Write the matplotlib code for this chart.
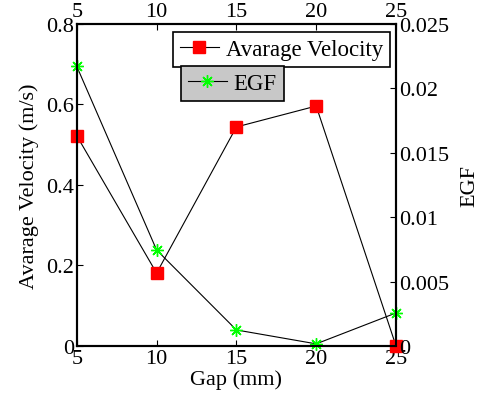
import matplotlib
matplotlib.use('Agg')
import matplotlib.pyplot as plt

plt.rcParams['font.family'] = ['Liberation Serif', 'DejaVu Serif']
plt.rcParams['font.size'] = 16

gap = [5, 10, 15, 20, 25]
velocity = [0.522, 0.181, 0.544, 0.596, 0.0]
egf = [0.0217, 0.00745, 0.00124, 0.00016, 0.00256]

fig = plt.figure(figsize=(4.8, 4.02), dpi=100)
ax = fig.add_axes([0.160, 0.137, 0.665, 0.801])
ax2 = ax.twinx()

l1, = ax.plot(gap, velocity, color='black', lw=0.8, marker='s', ms=8,
              mfc='red', mec='red', label='Avarage Velocity', clip_on=False, zorder=3)
l2, = ax2.plot(gap, egf, color='black', lw=0.8, marker=(8, 2, 0), ms=9,
               mec=(0, 1, 0), mfc=(0, 1, 0), mew=1, label='EGF', clip_on=False)

ax.set_xlim(5, 25)
ax.set_ylim(0, 0.8)
ax2.set_ylim(0, 0.025)
ax.set_xticks(gap)
ax.set_yticks([0, 0.2, 0.4, 0.6, 0.8])
ax.set_yticklabels(['0', '0.2', '0.4', '0.6', '0.8'])
ax2.set_yticks([0, 0.005, 0.01, 0.015, 0.02, 0.025])
ax2.set_yticklabels(['0', '0.005', '0.01', '0.015', '0.02', '0.025'])

ax.tick_params(direction='in', top=True, labeltop=True, length=4, width=0.8, pad=2)
ax2.tick_params(direction='in', length=4, width=0.8, pad=2)
for a in (ax, ax2):
    for s in a.spines.values():
        s.set_linewidth(1.5)

ax.set_xlabel('Gap (mm)', labelpad=1)
ax.set_ylabel('Avarage Velocity (m/s)', labelpad=5)
ax2.set_ylabel('EGF', labelpad=8)

leg_kw = dict(loc='upper left', frameon=True, fancybox=False, edgecolor='black',
              framealpha=1, handlelength=1.7, borderpad=0.3, handletextpad=0.3,
              borderaxespad=0, numpoints=1, fontsize=16.5)
leg1 = ax2.legend([l1], ['Avarage Velocity'], bbox_to_anchor=(0.301, 0.975), **leg_kw)
leg1.get_frame().set_linewidth(1.2)
ax2.add_artist(leg1)
leg2 = ax2.legend([l2], ['EGF'], bbox_to_anchor=(0.326, 0.870),
                  facecolor='#c8c8c8', **leg_kw)
leg2.get_frame().set_linewidth(1.2)

fig.savefig('out.png', dpi=100)
